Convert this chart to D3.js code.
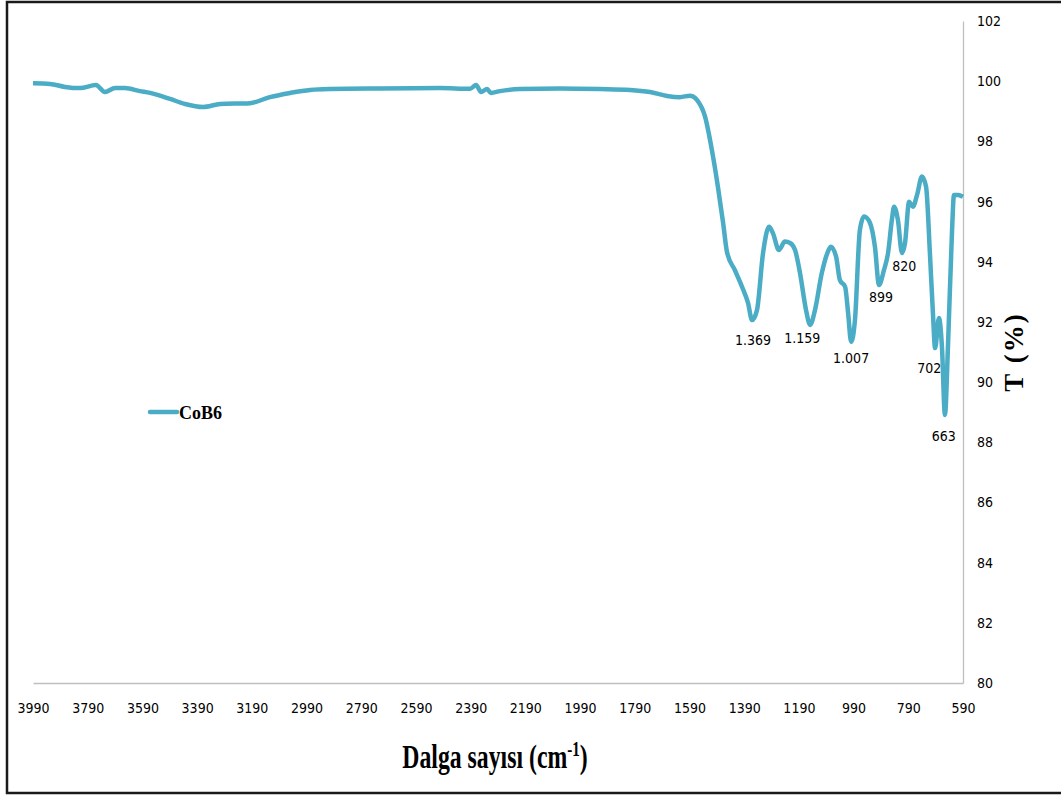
<!DOCTYPE html>
<html>
  <head>
    <title>CoB6 FTIR</title>
    <script src="https://cdn.jsdelivr.net/npm/d3@7/dist/d3.min.js" charset="utf-8"></script>
<style>
body { margin: 0; background: #ffffff; }
.tick-label { font-family: "Liberation Sans Narrow", "DejaVu Sans Condensed", sans-serif; font-stretch: condensed; font-size: 14px; fill: #000; }
.title { font-family: "Liberation Serif", "Times New Roman", serif; font-weight: bold; fill: #000; }
</style>
  </head>
  <body>
    <svg></svg>
    <script>
      // spectrum: wavenumber (cm-1) and transmittance (%)
      var wavenumber = [3990, 3928, 3873, 3818, 3760, 3727, 3690, 3654, 3599, 3562, 3489, 3434, 3368, 3306, 3197,
        3124, 3050, 2977, 2904, 2721, 2502, 2392, 2370, 2352, 2330, 2316, 2283, 2210, 2063, 1917, 1807, 1734,
        1672, 1625, 1588, 1577, 1562, 1533, 1508, 1486, 1467, 1453, 1424, 1398, 1376, 1361, 1343, 1321, 1299,
        1285, 1263, 1241, 1222, 1204, 1186, 1164, 1149, 1131, 1106, 1084, 1073, 1054, 1040, 1021, 1010, 999,
        985, 967, 952, 930, 912, 897, 879, 864, 850, 842, 828, 813, 802, 787, 773, 758, 740, 725, 711, 700,
        692, 678, 667, 656, 645, 630, 623, 608, 590];
      var transmittance = [99.93, 99.91, 99.81, 99.77, 99.87, 99.64, 99.77, 99.77, 99.67, 99.61, 99.41, 99.24, 99.14, 99.24, 99.27,
        99.47, 99.61, 99.71, 99.74, 99.76, 99.77, 99.75, 99.87, 99.64, 99.74, 99.61, 99.67, 99.74, 99.76, 99.74, 99.71, 99.64,
        99.51, 99.47, 99.52, 99.49, 99.37, 98.82, 97.71, 96.49, 95.29, 94.33, 93.72, 93.17, 92.63, 92.06, 92.40, 94.29, 95.16,
        94.95, 94.39, 94.67, 94.62, 94.39, 93.63, 92.40, 91.90, 92.40, 93.63, 94.33, 94.50, 94.17, 93.39, 93.17, 92.30, 91.34,
        92.06, 95.05, 95.50, 95.29, 94.50, 93.23, 93.72, 94.29, 95.39, 95.83, 95.39, 94.29, 94.62, 95.99, 95.83, 96.22, 96.83, 96.49, 94.29, 92.30,
        91.13, 92.13, 91.18, 88.91, 91.18, 95.05, 96.22, 96.22, 96.16];

      var xTicks = d3.range(3990, 589, -200);
      var yTicks = d3.range(80, 103, 2);

      // peak annotations (text, and data point they sit under)
      var peakText = ["1.369", "1.159", "1.007", "899", "820", "702", "663"];
      var peakWn = [1358, 1178, 999, 890, 805, 713, 660];
      var peakT = [91.22, 91.30, 90.65, 92.67, 93.70, 90.29, 88.03];

      var width = 1061, height = 796;
      var plotLeft = 33, plotRight = 963, plotTop = 21, plotBottom = 683;

      var svg = d3.select("svg").attr("width", width).attr("height", height);

      var x = d3.scaleLinear().domain([3990, 590]).range([plotLeft, plotRight]);
      var y = d3.scaleLinear().domain([80, 102]).range([plotBottom, plotTop]);

      // outer frame
      svg.append("rect")
        .attr("x", 7).attr("y", 2).attr("width", 1062).attr("height", 791)
        .attr("fill", "none").attr("stroke", "#1a1a1a").attr("stroke-width", 2.5);

      // bottom axis
      var xAxis = svg.append("g").attr("transform", "translate(0," + plotBottom + ")")
        .call(d3.axisBottom(x).tickValues(xTicks).tickSize(0).tickPadding(20).tickFormat(d3.format("d")));
      xAxis.select(".domain").attr("stroke", "#bfbfbf").attr("stroke-width", 1.3);
      xAxis.selectAll("text").attr("class", "tick-label").attr("fill", null);

      // right axis
      var yAxis = svg.append("g").attr("transform", "translate(" + plotRight + ",0)")
        .call(d3.axisRight(y).tickValues(yTicks).tickSize(0).tickPadding(14));
      yAxis.select(".domain").attr("stroke", "#bfbfbf").attr("stroke-width", 1.3);
      yAxis.selectAll("text").attr("class", "tick-label").attr("fill", null);

      var spectrum = wavenumber.map(function(w, i){ return [w, transmittance[i]]; });
      var line = d3.line()
        .x(function(d){ return x(d[0]); })
        .y(function(d){ return y(d[1]); })
        .curve(d3.curveMonotoneX);

      svg.append("path").datum(spectrum)
        .attr("d", line)
        .attr("fill", "none")
        .attr("stroke", "#4bacc6")
        .attr("stroke-width", 4.5)
        .attr("stroke-linejoin", "round");

      svg.selectAll(".peak").data(peakText).enter()
        .append("text")
          .attr("class", "tick-label peak")
          .attr("text-anchor", "middle")
          .attr("x", function(d, i){ return x(peakWn[i]); })
          .attr("y", function(d, i){ return y(peakT[i]); })
          .text(function(d){ return d; });

      // legend
      svg.append("line").attr("x1", 150).attr("x2", 177).attr("y1", 412).attr("y2", 412)
        .attr("stroke", "#4bacc6").attr("stroke-width", 4.5).attr("stroke-linecap", "round");
      svg.append("text").attr("class", "title").attr("x", 179).attr("y", 419)
        .attr("font-size", 18).attr("textLength", 43).text("CoB6");

      // axis titles (narrow bold serif)
      var xt = svg.append("text").attr("class", "title")
        .attr("transform", "translate(495,768) scale(0.72,1)")
        .attr("text-anchor", "middle").attr("font-size", 33);
      xt.append("tspan").text("Dalga sayısı (cm");
      xt.append("tspan").attr("dy", -12).attr("font-size", 21).text("-1");
      xt.append("tspan").attr("dy", 12).text(")");

      svg.append("text").attr("class", "title")
        .attr("transform", "translate(1023,352) rotate(-90)")
        .attr("text-anchor", "middle").attr("font-size", 27)
        .attr("letter-spacing", 2)
        .text("T (%)");
    </script>
  </body>
</html>
